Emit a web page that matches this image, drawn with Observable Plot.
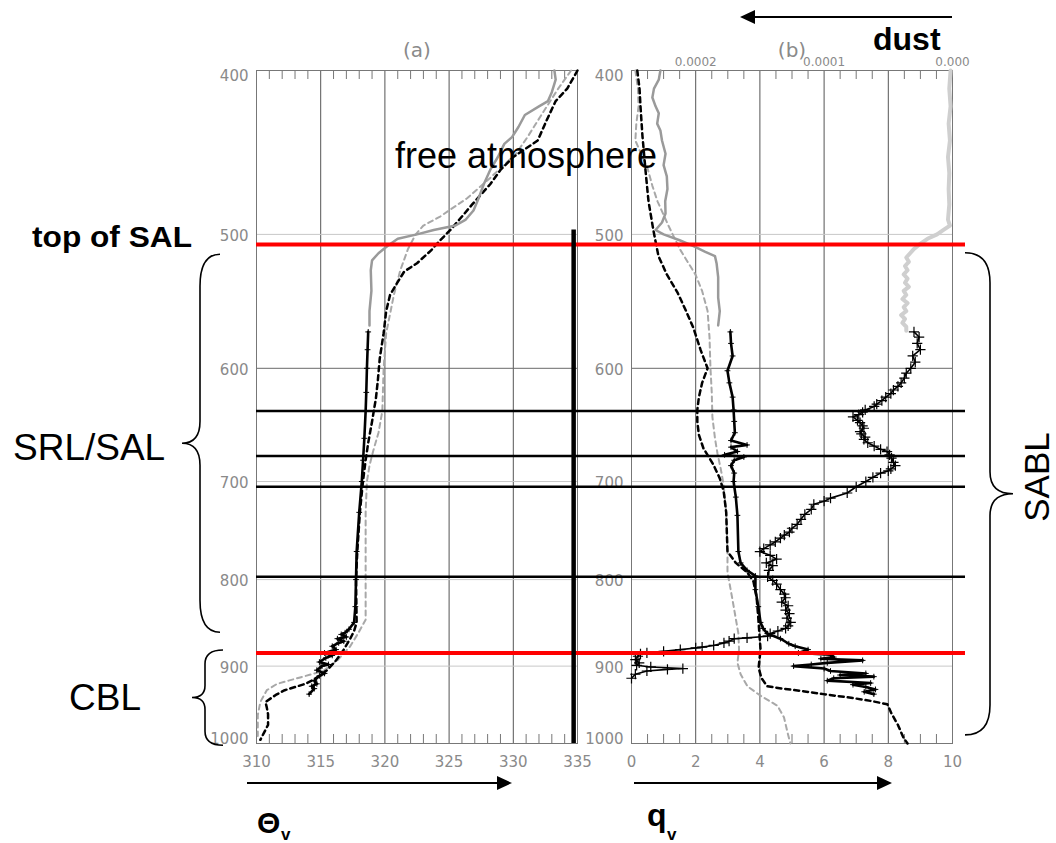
<!DOCTYPE html>
<html><head><meta charset="utf-8">
<script src="https://cdn.jsdelivr.net/npm/d3@7"></script>
<script src="https://cdn.jsdelivr.net/npm/@observablehq/plot@0.6"></script>
<style>
html,body{margin:0;padding:0;background:#fff;}
#wrap{position:relative;width:1056px;height:843px;overflow:hidden;background:#fff;}
#wrap > svg{position:absolute;left:0;top:0;}
</style></head><body><div id="wrap"></div>
<script>
// ---------- axes / ticks ----------
const pressureTicks = [400, 500, 600, 700, 800, 900, 1000];
const pressureGridDark = [600];
const pressureGridLight = [500, 700, 800, 900];
const thetaTicks = [310, 315, 320, 325, 330, 335];
const thetaGrid = [315, 320, 325, 330];
const thetaMinor = [311,312,313,314,316,317,318,319,321,322,323,324,326,327,328,329,331,332,333,334];
const qvTicks = [0, 2, 4, 6, 8, 10];
const qvGrid = [2, 4, 6, 8];
const qvMinor = [0.5,1,1.5,2.5,3,3.5,4.5,5,5.5,6.5,7,7.5,8.5,9,9.5];
const dustTicks = [0.0002, 0.0001, 0];

// ---------- layer boundaries (hPa) ----------
const redLevels = [507, 884];
const blackLevels = [636, 676, 705, 797];
const salBar = [{theta: 334.7, top: 497, bottom: 1000}];

// ---------- (a) virtual potential temperature, [pressure, K] ----------
const thetaSondeUpper = [[400,333.2],[405,333.3],[412,333.0],[417,332.7],[420,332.0],[425,330.9],[432,330.4],[438,329.9],[442,329.3],[450,328.8],[458,328.2],[467,327.7],[476,327.3],[484,326.9],[490,326.3],[494,325.5],[497,323.8],[500,322.5],[503,321.0],[508,320.2],[513,319.5],[518,319.0],[525,318.9],[540,318.95],[555,318.8],[566,318.8]];
const thetaSondeLower = [[571,318.7],[585,318.65],[600,318.6],[620,318.55],[636,318.5],[660,318.4],[680,318.3],[700,318.2],[730,318.0],[770,317.8],[800,317.75],[830,317.7],[848,317.6],[856,317.2],[860,316.9],[862,316.6],[865,317.0],[867,316.3],[870,316.8],[872,316.4],[876,315.9],[880,316.2],[884,315.3],[887,315.9],[890,315.4],[895,314.9],[898,315.6],[900,315.1],[905,314.7],[909,315.3],[912,314.9],[918,314.5],[922,314.7],[925,314.3],[928,314.5],[935,314.1]];
const thetaModelA = [[400,335.0],[410,334.2],[417,333.3],[428,332.6],[440,331.9],[450,330.0],[458,329.0],[467,328.2],[480,326.8],[490,325.8],[497,325.1],[505,324.2],[511,323.6],[520,322.5],[526,321.5],[535,320.9],[543,320.4],[555,320.1],[572,319.9],[592,319.6],[610,319.45],[625,319.3],[645,319.0],[664,318.7],[680,318.5],[699,318.3],[730,318.05],[770,317.85],[800,317.75],[848,317.8],[858,317.6],[867,317.3],[880,316.8],[893,316.2],[905,315.5],[912,314.9],[918,314.3],[922,313.8],[926,313.0],[930,312.2],[936,311.5],[945,310.7],[952,310.8],[961,310.9],[975,310.9],[985,310.6],[995,310.3]];
const thetaModelB = [[400,334.5],[410,333.5],[426,332.1],[438,331.1],[448,330.2],[463,328.2],[476,326.4],[488,324.3],[494,323.0],[500,322.4],[510,321.8],[525,321.2],[543,320.7],[572,320.1],[600,319.9],[636,319.8],[655,319.5],[671,319.1],[685,318.8],[700,318.6],[730,318.5],[762,318.5],[800,318.5],[845,318.5],[861,317.9],[876,317.3],[893,316.3],[906,315.2],[910,314.3],[914,313.4],[918,312.5],[922,311.6],[930,310.8],[945,310.3],[962,310.1],[990,310.1]];

// ---------- (b) water vapour mixing ratio, [pressure, g/kg] ----------
const qvSondeUpper = [[400,0.9],[405,0.85],[410,0.7],[415,0.65],[420,0.75],[424,0.85],[430,0.8],[434,0.9],[440,0.95],[448,1.06],[455,1.0],[462,1.1],[470,1.12],[478,1.05],[486,1.06],[492,0.95],[497,0.75],[500,1.0],[504,1.5],[508,1.93],[512,2.3],[515,2.6],[520,2.65],[530,2.7],[545,2.7],[555,2.75],[566,2.7]];
const qvSondeLower = [[571,3.08],[580,3.1],[590,3.15],[602,2.99],[612,3.05],[624,3.15],[635,3.18],[645,3.2],[655,3.22],[662,3.1],[666,3.6],[668,3.1],[672,3.3],[675,2.9],[677,3.5],[680,3.2],[685,3.1],[692,3.2],[700,3.18],[715,3.25],[733,3.3],[770,3.33],[782,3.4],[790,3.6],[796,3.86],[811,3.86],[830,3.95],[848,4.02],[855,4.1],[861,4.23],[867,4.64],[873,4.9],[876,5.1],[880,5.5],[884,5.2],[886,6.2],[889,6.3],[891,5.9],[893,7.2],[896,6.1],[898,5.6],[900,5.05],[903,6.0],[906,6.2],[909,7.3],[911,6.5],[913,7.55],[915,6.3],[918,6.1],[921,7.45],[923,6.9],[926,7.3],[929,7.6],[932,7.25],[935,7.55]];
const qvModelA = [[400,0.18],[410,0.25],[420,0.28],[437,0.34],[457,0.43],[478,0.53],[497,0.68],[515,0.84],[528,1.1],[541,1.43],[555,1.7],[568,1.93],[585,2.15],[600,2.37],[612,2.2],[624,2.1],[635,2.05],[645,2.05],[657,2.1],[669,2.24],[684,2.55],[697,2.75],[709,2.87],[730,2.95],[770,2.99],[782,3.25],[792,3.6],[802,3.8],[820,3.9],[848,3.96],[880,4.02],[902,3.96],[915,4.05],[925,4.23],[928,4.7],[931,5.3],[935,5.98],[940,6.9],[944,7.5],[948,7.97],[960,8.1],[975,8.3],[992,8.47],[1000,8.6]];
const qvModelB = [[400,0.12],[410,0.2],[420,0.22],[430,0.15],[440,0.12],[448,0.3],[457,0.5],[468,0.65],[478,0.81],[494,1.15],[503,1.35],[511,1.53],[528,1.99],[540,2.2],[555,2.37],[575,2.43],[600,2.46],[620,2.5],[641,2.52],[660,2.6],[674,2.68],[688,2.78],[703,2.87],[730,2.95],[770,2.99],[792,2.99],[823,3.15],[861,3.33],[880,3.35],[896,3.3],[910,3.4],[925,3.61],[937,4.02],[950,4.55],[965,4.75],[985,4.86],[1000,4.95]];

// ---------- (b) dust, [pressure, dust] (top axis) ----------
const dustUpper = [[400,1.5e-6],[410,2.5e-6],[420,1.5e-6],[430,3e-6],[440,2e-6],[450,3.5e-6],[460,2.5e-6],[470,3e-6],[480,2.5e-6],[490,3.5e-6],[494,2e-6],[497,7e-6],[500,1.2e-5],[503,1.95e-5],[507,2.6e-5],[510,3e-5],[513,3.3e-5],[516,3.6e-5],[519,3.4e-5],[522,3.7e-5],[525,3.5e-5],[528,3.8e-5],[531,3.5e-5],[534,3.7e-5],[537,3.4e-5],[540,3.8e-5],[543,3.6e-5],[546,3.9e-5],[549,3.5e-5],[552,3.8e-5],[555,3.6e-5],[558,4.0e-5],[561,3.7e-5],[564,3.9e-5],[567,3.6e-5],[570,3.6e-5]];
const dustLower = [[571,3.0e-5],[575,2.6e-5],[580,2.75e-5],[585,2.5e-5],[590,3.1e-5],[595,2.9e-5],[600,3.25e-5],[604,3.6e-5],[608,3.75e-5],[612,4.0e-5],[615,4.25e-5],[618,4.6e-5],[621,4.8e-5],[624,5.2e-5],[627,5.5e-5],[630,5.9e-5],[632,6.1e-5],[635,6.8e-5],[637,7.0e-5],[639,7.3e-5],[641,7.75e-5],[644,7.4e-5],[646,7.2e-5],[649,7.0e-5],[651,6.9e-5],[654,7.2e-5],[656,7.1e-5],[659,6.8e-5],[661,6.9e-5],[664,6.6e-5],[667,6.1e-5],[670,5.6e-5],[672,5.1e-5],[675,4.9e-5],[678,4.75e-5],[682,4.6e-5],[685,4.45e-5],[688,4.8e-5],[690,5.0e-5],[692,5.6e-5],[696,6.2e-5],[700,6.75e-5],[705,7.5e-5],[711,8.2e-5],[716,9.5e-5],[719,1.0e-4],[722,1.08e-4],[727,1.1e-4],[732,1.15e-4],[737,1.18e-4],[742,1.21e-4],[746,1.25e-4],[750,1.27e-4],[753,1.31e-4],[756,1.34e-4],[760,1.38e-4],[763,1.42e-4],[767,1.47e-4],[770,1.5e-4],[774,1.42e-4],[778,1.37e-4],[782,1.45e-4],[785,1.40e-4],[790,1.43e-4],[797,1.44e-4],[801,1.40e-4],[805,1.37e-4],[811,1.34e-4],[816,1.31e-4],[820,1.3e-4],[825,1.33e-4],[829,1.28e-4],[834,1.3e-4],[838,1.27e-4],[843,1.29e-4],[848,1.26e-4],[852,1.28e-4],[855,1.3e-4],[858,1.36e-4],[861,1.42e-4],[864,1.44e-4],[866,1.6e-4],[867,1.7e-4],[870,1.74e-4],[872,1.78e-4],[875,1.86e-4],[877,1.95e-4],[878,2.0e-4],[880,2.12e-4],[882,2.25e-4],[884,2.38e-4],[885,2.43e-4],[888,2.45e-4],[892,2.47e-4],[896,2.44e-4],[899,2.46e-4],[901,2.35e-4],[903,2.1e-4],[904,2.22e-4],[906,2.38e-4],[910,2.47e-4],[915,2.5e-4]];

// ---------- annotations ----------
const braces = [
  {label: "SRL/SAL", top: 514, bottom: 860, xEnd: 220, xSpine: 200, xTip: 182, rEnd: 32, rTip: 22},
  {label: "CBL", top: 881, bottom: 1003, xEnd: 223, xSpine: 205, xTip: 192, rEnd: 14, rTip: 12},
  {label: "SABL", top: 513, bottom: 989, xEnd: 965, xSpine: 990, xTip: 1013, rEnd: 30, rTip: 22}
];

// ---------- rendering ----------
const W = 1056, H = 843;
const AXF = "DejaVu Sans, sans-serif";
const TXF = "Liberation Sans, Arial, Helvetica, sans-serif";
const axisGray = "#8a8a8a";
const yScale = {type: "log", domain: [400, 1000], reverse: true, axis: null};
const common = {width: W, height: H, marginTop: 70, marginBottom: H - 743,
  style: {fontFamily: AXF, background: "transparent", overflow: "visible"}};
const P = d => d[0], V = d => d[1];
const wrap = document.getElementById("wrap");

function yAxes() {
  const o = {tickSize: 0, tickPadding: 8, tickFormat: d => String(d), fontSize: 15, color: axisGray};
  return [
    Plot.axisY([400], {...o, dy: 6}),
    Plot.axisY([500, 600, 700, 800, 900], {...o, dy: 2}),
    Plot.axisY([1000], {...o, dy: -4})
  ];
}
function panelFrame(grid, minor, ticks, title) {
  return [
    Plot.gridX(grid, {stroke: "#555", strokeOpacity: 1}),
    Plot.gridY(pressureGridLight, {stroke: "#c8c8c8", strokeOpacity: 1}),
    Plot.gridY(pressureGridDark, {stroke: "#6a6a6a", strokeOpacity: 1}),
    Plot.ruleX(minor, {insetBottom: 664, stroke: "#777"}),
    Plot.ruleX(minor, {insetTop: 664, stroke: "#777"}),
    Plot.frame({stroke: "#777"}),
    Plot.axisX(ticks, {tickSize: 0, tickPadding: 13, fontSize: 15, color: axisGray, tickFormat: d => String(d)}),
    ...yAxes(),
    Plot.text([title], {frameAnchor: "top", dy: -28, fontSize: 20, fill: axisGray})
  ];
}
function profileMarks(sondeUpper, sondeLower, modelA, modelB, crossR) {
  return [
    Plot.line(modelB, {x: V, y: P, stroke: "#a8a8a8", strokeWidth: 2, strokeDasharray: "5,4"}),
    Plot.line(modelA, {x: V, y: P, stroke: "#000", strokeWidth: 2.5, strokeDasharray: "5,4"}),
    Plot.line(sondeUpper, {x: V, y: P, stroke: "#9a9a9a", strokeWidth: 2.5}),
    Plot.line(sondeLower, {x: V, y: P, stroke: "#000", strokeWidth: 2.6}),
    Plot.dot(sondeLower, {x: V, y: P, symbol: "plus", r: crossR, stroke: "#000", strokeWidth: 1})
  ];
}

const panelA = Plot.plot({...common, marginLeft: 256, marginRight: W - 577,
  x: {domain: [310, 335], axis: null}, y: yScale,
  marks: [...panelFrame(thetaGrid, thetaMinor, thetaTicks, "(a)"),
    ...profileMarks(thetaSondeUpper, thetaSondeLower, thetaModelA, thetaModelB, 2)]});
const panelB = Plot.plot({...common, marginLeft: 631, marginRight: W - 952,
  x: {domain: [0, 10], axis: null}, y: yScale,
  marks: [...panelFrame(qvGrid, qvMinor, qvTicks, "(b)"),
    ...profileMarks(qvSondeUpper, qvSondeLower, qvModelA, qvModelB, 2)]});
const panelDust = Plot.plot({...common, marginLeft: 631, marginRight: W - 952,
  x: {domain: [0.00025, 0], axis: null}, y: yScale,
  marks: [
    Plot.axisX(dustTicks, {anchor: "top", tickSize: 0, tickPadding: 5, fontSize: 12, color: axisGray,
      tickFormat: d => d === 0 ? "0.000" : d.toFixed(4)}),
    Plot.line(dustUpper, {x: V, y: P, stroke: "#cfcfcf", strokeWidth: 4}),
    Plot.line(dustLower, {x: V, y: P, stroke: "#000", strokeWidth: 1.6}),
    Plot.dot(dustLower, {x: V, y: P, symbol: "plus", r: 3.4, stroke: "#000", strokeWidth: 1.2})
  ]});
const levels = Plot.plot({...common, marginLeft: 256, marginRight: W - 965, y: yScale,
  marks: [
    Plot.ruleY(blackLevels, {stroke: "#000", strokeWidth: 2.5}),
    Plot.ruleY(redLevels, {stroke: "#ff0000", strokeWidth: 4})
  ]});
const barA = Plot.plot({...common, marginLeft: 256, marginRight: W - 577,
  x: {domain: [310, 335], axis: null}, y: yScale,
  marks: [Plot.ruleX(salBar, {x: "theta", y1: "top", y2: "bottom", stroke: "#000", strokeWidth: 4.5})]});

[panelA, panelB, panelDust, levels, barA].forEach(s => wrap.appendChild(s));

// annotation layer
const ys = levels.scale("y");
const svg = d3.select(wrap).append("svg").attr("width", W).attr("height", H)
  .style("font-family", TXF);

function bracePath(b) {
  const y1 = ys.apply(b.top), y2 = ys.apply(b.bottom), ym = (y1 + y2) / 2;
  const {xEnd: xe, xSpine: xs, xTip: xt, rEnd: r, rTip: rt} = b;
  return `M${xe},${y1} Q${xs},${y1} ${xs},${y1 + r} L${xs},${ym - rt} Q${xs},${ym} ${xt},${ym}` +
    ` Q${xs},${ym} ${xs},${ym + rt} L${xs},${y2 - r} Q${xs},${y2} ${xe},${y2}`;
}
svg.selectAll("path.brace").data(braces).join("path").attr("class", "brace")
  .attr("d", bracePath).attr("fill", "none").attr("stroke", "#000").attr("stroke-width", 1.6);

const txt = (x, y, s, size, weight, extra) => {
  const t = svg.append("text").attr("x", x).attr("y", y).attr("font-size", size)
    .attr("font-weight", weight || "normal").attr("fill", "#000").text(s);
  if (extra) extra(t);
  return t;
};
txt(395, 168, "free atmosphere", 36);
txt(32, 247, "top of SAL", 30, "bold", t => t.attr("textLength", 160).attr("lengthAdjust", "spacingAndGlyphs"));
txt(13, 460, "SRL/SAL", 37);
txt(69, 710, "CBL", 37);
svg.append("text").attr("transform", "translate(1049,477) rotate(-90)").attr("text-anchor", "middle")
  .attr("font-size", 35).text("SABL");
txt(873, 50, "dust", 32, "bold");
txt(257, 833, "Θ", 30, "bold");
txt(281, 840, "v", 17, "bold");
txt(647, 826, "q", 32, "bold");
txt(667, 840, "v", 17, "bold");

function arrow(x1, x2, y) {
  const dir = Math.sign(x2 - x1), L = 15, hw = 7;
  svg.append("line").attr("x1", x1).attr("x2", x2 - dir * L).attr("y1", y).attr("y2", y)
    .attr("stroke", "#000").attr("stroke-width", 2);
  svg.append("path").attr("d", `M${x2},${y} L${x2 - dir * L},${y - hw} L${x2 - dir * L},${y + hw} Z`).attr("fill", "#000");
}
arrow(952, 740, 17);
arrow(247, 512, 783);
arrow(634, 892, 783);
</script></body></html>
